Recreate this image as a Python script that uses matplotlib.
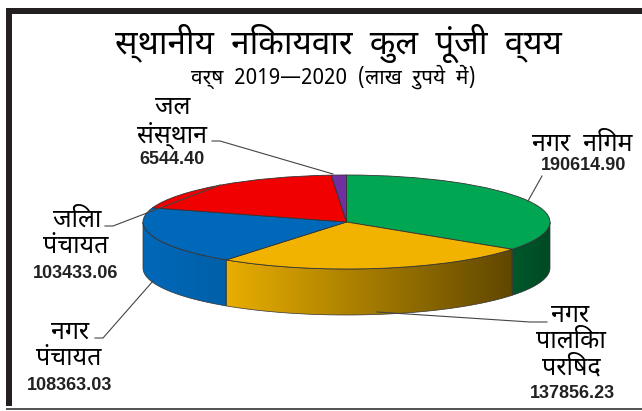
import matplotlib
matplotlib.use("Agg")
import matplotlib.pyplot as plt
import numpy as np
from matplotlib.colors import LinearSegmentedColormap
from matplotlib.patches import Polygon, Rectangle

# data (lakh rupees)
categories = ["नगर निगम", "नगर पालिका परिषद", "नगर पंचायत", "जिला पंचायत", "जल संस्थान"]
values = [190614.90, 137856.23, 108363.03, 103433.06, 6544.40]
value_labels = ["190614.90", "137856.23", "108363.03", "103433.06", "6544.40"]

top_colors = ["#00A651", "#F2B200", "#0068B8", "#F00000", "#7030A0"]
wall_colors = [("#00582B", "#004A24"), ("#E8AE00", "#604700"), ("#0068B8", "#0060A8"),
               ("#C00000", "#C00000"), ("#5A2680", "#5A2680")]

W, H = 642, 411
hindi = ["Noto Sans Devanagari", "Noto Sans", "DejaVu Sans"]

# pie position in pixels
cx, cy, rx, ry, depth = 346.5, 222, 203.5, 47, 46


def px(x, y):
    return x / W, 1 - y / H


fig = plt.figure(figsize=(W / 100, H / 100), dpi=100, facecolor="white")

# frame around the picture
for x, y, w, h, c in [(6, 8, 636, 6, "#231F20"), (6, 8, 6, 398, "#231F20"), (6, 408, 636, 2, "#555555")]:
    fig.add_artist(Rectangle(px(x, y + h), w / W, h / H, transform=fig.transFigure, fc=c, ec="none"))

ax = fig.add_axes([0, 0, 1, 1])
wedges, _ = ax.pie(values, colors=top_colors, startangle=90, counterclock=False,
                   wedgeprops={"edgecolor": "#333333", "linewidth": 0.6, "zorder": 3})
ax.set_aspect("auto")
xlim = (-cx / rx, (W - cx) / rx)
ylim = ((cy - H) / ry, cy / ry)
d = depth / ry

# side wall of the front half, one piece per slice
for wedge, (c1, c2) in zip(wedges, wall_colors):
    lo, hi = max(wedge.theta1, -180), min(wedge.theta2, 0)
    if hi <= lo:
        continue
    t = np.radians(np.linspace(lo, hi, 80))
    xs, ys = np.cos(t), np.sin(t)
    pts = np.column_stack([np.r_[xs, xs[::-1]], np.r_[ys, ys[::-1] - d]])
    poly = Polygon(pts, closed=True, fc="none", ec="#333333", lw=0.5, zorder=2)
    ax.add_patch(poly)
    cmap = LinearSegmentedColormap.from_list("wall", [c1, c2])
    img = ax.imshow(np.linspace(0, 1, 256).reshape(1, -1), cmap=cmap, aspect="auto", zorder=1,
                    extent=(xs.min(), xs.max(), ys.min() - d, ys.max()))
    img.set_clip_path(poly)

ax.set_xlim(xlim)
ax.set_ylim(ylim)
ax.set_axis_off()

# leader lines, pixel coordinates
leaders = [
    [(542, 176), (528, 201)],
    [(547, 322), (530, 322), (377, 312)],
    [(95, 338), (103, 338), (153, 281)],
    [(105, 226), (113, 226), (220, 185)],
    [(212, 141), (220, 141), (333, 174)],
]
for pts in leaders:
    xs, ys = zip(*pts)
    fig.add_artist(plt.Line2D(np.array(xs) / W, 1 - np.array(ys) / H, color="#444444", lw=0.8,
                              transform=fig.transFigure, zorder=5))


def label(x, y, s, size):
    fig.text(*px(x, y), s, fontsize=size, family=hindi, ha="center", va="center", color="black")


def number(x, y, s):
    fig.text(*px(x, y), s, fontsize=13, family="Liberation Sans", weight="bold",
             color="#222222", ha="center", va="center")


label(338, 43, "स्थानीय  निकायवार  कुल  पूंजी  व्यय", 24)
label(333, 77, "वर्ष  2019—2020  (लाख  रुपये  में)", 15)

label(582, 144, "नगर  निगम", 18)
number(584, 166, value_labels[0])

label(570, 315, "नगर", 18)
label(571, 341, "पालिका", 18)
label(571, 368, "परिषद", 18)
number(572, 393, value_labels[1])

label(70, 332, "नगर", 18)
label(69, 359, "पंचायत", 18)
number(70, 385, value_labels[2])

label(77, 220, "जिला", 18)
label(76, 247, "पंचायत", 18)
number(76, 273, value_labels[3])

label(173, 107, "जल", 18)
label(172, 136, "संस्थान", 18)
number(172, 159, value_labels[4])

fig.savefig("out.png", dpi=100)
